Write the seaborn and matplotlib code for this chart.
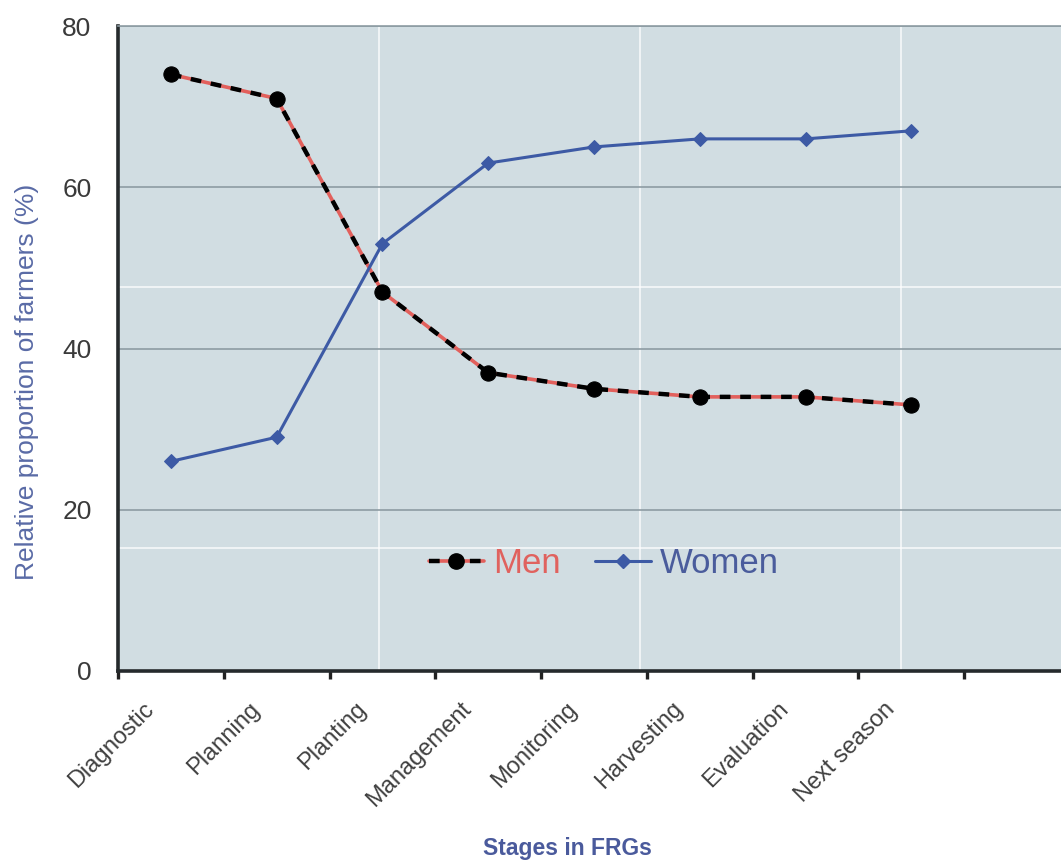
import matplotlib
matplotlib.use("Agg")
import matplotlib.pyplot as plt
import matplotlib.transforms as mtransforms
from matplotlib.lines import Line2D
import numpy as np
import pandas as pd
import seaborn as sns

stages = ["Diagnostic", "Planning", "Planting", "Management",
          "Monitoring", "Harvesting", "Evaluation", "Next season"]
men = [74, 71, 47, 37, 35, 34, 34, 33]
women = [26, 29, 53, 63, 65, 66, 66, 67]

y_ticks = [0, 20, 40, 60, 80]

men_red = "#e2605c"
women_blue = "#3d5aa5"
bg_color = "#d1dde2"


def build_frame():
    df = pd.DataFrame({"stage": stages, "men": men, "women": women})
    df["pos"] = np.arange(len(stages))
    return df


def draw_chart(df):
    sns.set_style("white")
    plt.rcParams["font.family"] = ["Liberation Sans", "DejaVu Sans"]

    fig = plt.figure(figsize=(10.61, 8.65), dpi=100)
    ax = fig.add_axes([118 / 1061, 1 - 671 / 865, (1070 - 118) / 1061, (671 - 26) / 865])
    ax.set_facecolor(bg_color)

    # texture seams of the background tiles
    for f in [0.274, 0.548, 0.822]:
        ax.plot([f, f], [0, 1], transform=ax.transAxes, color="white", lw=1.2, alpha=0.8, zorder=0.5)
    for f in [0.595, 0.19]:
        ax.plot([0, 1], [f, f], transform=ax.transAxes, color="white", lw=1.2, alpha=0.8, zorder=0.5)

    ax.set_ylim(0, 80)
    ax.set_xlim(-0.5, 8.5)
    ax.set_yticks(y_ticks)
    ax.yaxis.grid(True, color="#8d9ca3", lw=1.2, zorder=0.6)
    ax.set_axisbelow(True)

    # men: red line under black dashes
    sns.lineplot(data=df, x="pos", y="men", color=men_red, lw=2.6, ax=ax, zorder=3)
    sns.lineplot(data=df, x="pos", y="men", color="black", lw=3.2,
                 linestyle=(0, (2.4, 2.2)), marker="o", markersize=11,
                 markeredgecolor="black", markerfacecolor="black", ax=ax, zorder=4)
    # women
    sns.lineplot(data=df, x="pos", y="women", color=women_blue, lw=2.2,
                 marker="D", markersize=7.5, markeredgecolor=women_blue, ax=ax, zorder=3)

    # ticks: marks at category boundaries, labels at centres
    ax.set_xticks(np.arange(-0.5, 9.0, 1.0))
    ax.set_xticklabels([])
    ax.tick_params(axis="x", which="major", bottom=True, direction="out", length=6,
                   width=2.4, color="#222222")
    ax.set_xticks(df["pos"], minor=True)
    ax.set_xticklabels(stages, minor=True, rotation=45, ha="right", va="center",
                       rotation_mode="anchor", fontsize=17, color="#404040")
    ax.tick_params(axis="x", which="minor", length=0, pad=25)
    shift = mtransforms.ScaledTranslation(-0.2, 0, fig.dpi_scale_trans)
    for lab in ax.get_xticklabels(minor=True):
        lab.set_transform(lab.get_transform() + shift)
    ax.tick_params(axis="y", length=0, pad=19, labelsize=19, labelcolor="#3a3a3a")

    for side in ["left", "bottom"]:
        ax.spines[side].set_color("#252a2c")
        ax.spines[side].set_linewidth(2.6)
    ax.spines["top"].set_color("#8d9ca3")
    ax.spines["top"].set_linewidth(1.2)
    ax.spines["right"].set_visible(False)

    ax.set_ylabel("Relative proportion of farmers (%)", fontsize=19, color="#5a6ba6")
    ax.yaxis.set_label_coords(-0.083, 0.448)
    ax.set_xlabel("Stages in FRGs", fontsize=16.5, fontweight="bold", color="#4a5a9c")
    ax.xaxis.set_label_coords(0.472, -0.257)

    men_handle = (Line2D([], [], color=men_red, lw=2.6),
                  Line2D([], [], color="black", lw=3.2, linestyle=(0, (2.4, 2.2)),
                         marker="o", markersize=11))
    women_handle = Line2D([], [], color=women_blue, lw=2.2, marker="D", markersize=7)
    leg = ax.legend([men_handle, women_handle], ["Men", "Women"], loc="center",
                    bbox_to_anchor=(0.51, 0.167), ncol=2, frameon=False, fontsize=25,
                    handlelength=1.6, handletextpad=0.25, columnspacing=1.0)
    leg.get_texts()[0].set_color("#e0625e")
    leg.get_texts()[1].set_color("#4a5c9c")

    fig.savefig("out.png", dpi=100, facecolor="white")


def main():
    df = build_frame()
    draw_chart(df)


main()
